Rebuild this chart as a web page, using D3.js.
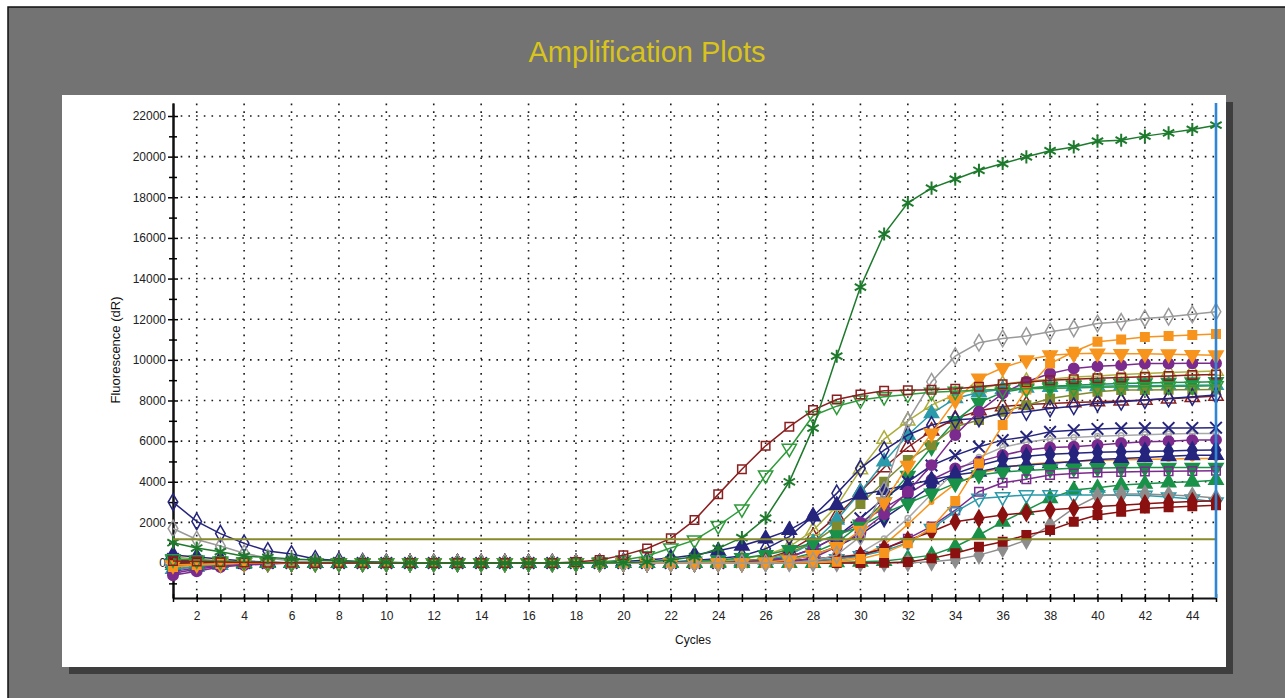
<!DOCTYPE html>
<html>
<head>
<meta charset="utf-8">
<script src="https://cdn.jsdelivr.net/npm/d3@7"></script>
<style>
  body { margin: 0; background: #fff; }
  svg { display: block; font-family: "Liberation Sans", Arial, sans-serif; }
</style>
</head>
<body>
<div id="chart"></div>
<script>
// cycles on the x axis
const cycles = [1, 2, 3, 4, 5, 6, 7, 8, 9, 10, 11, 12, 13, 14, 15, 16, 17, 18, 19, 20, 21, 22, 23,
  24, 25, 26, 27, 28, 29, 30, 31, 32, 33, 34, 35, 36, 37, 38, 39, 40, 41, 42, 43, 44, 45];
const yTicks = [0, 2000, 4000, 6000, 8000, 10000, 12000, 14000, 16000, 18000, 20000, 22000];
const yMinorTicks = [-1000, 1000, 3000, 5000, 7000, 9000, 11000, 13000, 15000, 17000, 19000, 21000];
const xLabelTicks = [2, 4, 6, 8, 10, 12, 14, 16, 18, 20, 22, 24, 26, 28, 30, 32, 34, 36, 38, 40, 42, 44];
const threshold = 1170;

// fluorescence (dR) per cycle
const greenStar = [1000, 740, 560, 340, 280, 200, 150, 100, 60, 40, 20, 10, 0, 0, 0,
  0, 0, 0, 0, 20, 60, 150, 310, 720, 1250, 2210, 4000, 6640, 10180, 13580,
  16190, 17730, 18450, 18890, 19330, 19660, 19990, 20290, 20480, 20760, 20810, 21010, 21170, 21340, 21550];
const brownSquareOpen = [100, 80, 50, 30, 20, 10, 0, 0, 0, 0, 0, 0, 0, 0, 0,
  0, 0, 50, 150, 390, 720, 1215, 2115, 3380, 4620, 5770, 6710, 7530, 8050, 8300,
  8480, 8500, 8530, 8580, 8680, 8800, 8900, 9000, 9050, 9090, 9130, 9170, 9210, 9250, 9280];
const greenTriDownOpen = [200, 150, 100, 60, 30, 10, 0, 0, 0, 0, 0, 0, 0, 0, 0,
  0, 0, 0, 50, 150, 350, 740, 1130, 1840, 2660, 4330, 5640, 7250, 7720, 8020,
  8180, 8300, 8400, 8450, 8500, 8550, 8580, 8600, 8620, 8650, 8660, 8680, 8700, 8700, 8720];
const grayDiamondOpen = [1700, 1160, 840, 480, 250, 100, 50, 20, 0, 0, 0, 0, 0, 0, 0,
  0, 0, 0, 0, 0, 0, 0, 0, 0, 0, 0, 30, 100, 400, 1300,
  3600, 7000, 8920, 10180, 10840, 11050, 11170, 11380, 11550, 11790, 11870, 12040, 12120, 12240, 12370];
const orangeSquare = [-200, -100, -50, 0, 0, 0, 0, 0, 0, 0, 0, 0, 0, 0, 0,
  0, 0, 0, 0, 0, 0, 0, 0, 0, 0, 0, 0, 20, 60, 200,
  490, 980, 1740, 3050, 4900, 6790, 8540, 9820, 10400, 10890, 11000, 11130, 11170, 11220, 11270];
const orangeTriDown = [-100, -60, -30, 0, 0, 0, 0, 0, 0, 0, 0, 0, 0, 0, 0,
  0, 0, 0, 0, 0, 0, 0, 0, 0, 0, 50, 150, 400, 800, 1600,
  3000, 4800, 6380, 8000, 9090, 9610, 9990, 10230, 10300, 10320, 10300, 10300, 10280, 10250, 10230];
const purpleBig = [-600, -400, -200, -100, -50, 0, 0, 0, 0, 0, 0, 0, 0, 0, 0,
  0, 0, 0, 0, 0, 0, 0, 0, 0, 0, 0, 80, 250, 800, 1500,
  2400, 3510, 4820, 6300, 7450, 8350, 8920, 9330, 9580, 9690, 9740, 9820, 9820, 9830, 9830];
const oliveTriOpen = [300, 200, 100, 50, 20, 0, 0, 0, 0, 0, 0, 0, 0, 0, 0,
  0, 0, 0, 0, 0, 0, 0, 30, 100, 200, 400, 800, 1600, 2800, 4600,
  6100, 7000, 7770, 8300, 8600, 8800, 8950, 9050, 9150, 9200, 9280, 9330, 9380, 9420, 9450];
const greenTriDownBig = [150, 100, 50, 20, 0, 0, 0, 0, 0, 0, 0, 0, 0, 0, 0,
  0, 0, 0, 0, 0, 0, 0, 0, 0, 50, 100, 200, 500, 1000, 1900,
  3000, 4300, 5700, 7000, 7900, 8400, 8600, 8700, 8750, 8800, 8830, 8860, 8880, 8900, 8920];
const oliveSquare = [0, 0, 0, 0, 0, 0, 0, 0, 0, 0, 0, 0, 0, 0, 0,
  0, 0, 0, 0, 0, 0, 0, 0, 50, 100, 200, 500, 1000, 1800, 2900,
  4000, 5070, 5800, 6710, 7040, 7440, 7770, 8100, 8270, 8430, 8510, 8520, 8530, 8530, 8540];
const tealTriUp = [-300, -200, -100, -50, 0, 0, 0, 0, 0, 0, 0, 0, 0, 0, 0,
  0, 0, 0, 0, 0, 0, 0, 0, 20, 60, 150, 400, 1000, 2120, 3500,
  4990, 6300, 7360, 8100, 8400, 8550, 8620, 8660, 8690, 8700, 8720, 8730, 8740, 8750, 8760];
const navyDiamondOpen = [3000, 2050, 1450, 970, 590, 440, 200, 120, 60, 30, 0, 0, 0, 0, 0,
  0, 0, 0, 0, 0, 0, 50, 120, 220, 350, 700, 1300, 2300, 3430, 4660,
  5560, 6300, 6790, 7040, 7120, 7360, 7440, 7610, 7720, 7860, 7940, 8020, 8100, 8180, 8270];
const brownTriOpen = [0, 0, 0, 0, 0, 0, 0, 0, 0, 0, 0, 0, 0, 0, 0,
  0, 0, 0, 0, 0, 0, 0, 0, 50, 100, 200, 600, 1300, 2300, 3500,
  4700, 5700, 6500, 7100, 7500, 7700, 7800, 7850, 7900, 7940, 7980, 8020, 8080, 8150, 8220];
const navyX = [200, 100, 50, 0, 0, 0, 0, 0, 0, 0, 0, 0, 0, 0, 0,
  0, 0, 0, 0, 0, 0, 0, 0, 0, 50, 100, 300, 700, 1300, 2200,
  3200, 4000, 4800, 5300, 5720, 6050, 6210, 6460, 6540, 6600, 6630, 6640, 6650, 6650, 6660];
const grayLine = [-200, -100, -50, 0, 0, 0, 0, 0, 0, 0, 0, 0, 0, 0, 0,
  0, 0, 0, 0, 0, 0, 0, 0, 0, 0, 0, 0, 50, 200, 500,
  1200, 2200, 3400, 4500, 5200, 5700, 5950, 6100, 6180, 6240, 6280, 6320, 6350, 6370, 6380];
const purpleSmall = [-500, -300, -150, -50, 0, 0, 0, 0, 0, 0, 0, 0, 0, 0, 0,
  0, 0, 0, 0, 0, 0, 0, 0, 0, 50, 100, 300, 700, 1300, 2000,
  2700, 3400, 4100, 4660, 4990, 5310, 5560, 5690, 5720, 5810, 5900, 5970, 6000, 6050, 6060];
const navyTriUp = [400, 300, 200, 100, 50, 0, 0, 0, 0, 0, 0, 0, 0, 0, 0,
  0, 0, 0, 30, 80, 150, 250, 400, 600, 850, 1200, 1620, 2280, 2850, 3350,
  3590, 3840, 4100, 4330, 4490, 4740, 4820, 4900, 5000, 5100, 5150, 5200, 5250, 5300, 5310];
const navyDiamond = [100, 50, 0, 0, 0, 0, 0, 0, 0, 0, 0, 0, 0, 0, 0,
  0, 0, 0, 0, 0, 0, 0, 0, 0, 0, 50, 150, 400, 800, 1400,
  2200, 3000, 3800, 4400, 4800, 5100, 5250, 5350, 5400, 5450, 5480, 5500, 5520, 5550, 5560];
const orangeLine = [-150, -80, -30, 0, 0, 0, 0, 0, 0, 0, 0, 0, 0, 0, 0,
  0, 0, 0, 0, 0, 0, 0, 0, 0, 0, 0, 0, 30, 100, 300,
  900, 1900, 3000, 3900, 4400, 4700, 4850, 4950, 5000, 5050, 5080, 5100, 5120, 5140, 5150];
const greenTriDownSmall = [0, 0, 0, 0, 0, 0, 0, 0, 0, 0, 0, 0, 0, 0, 0,
  0, 0, 0, 0, 0, 0, 30, 80, 150, 250, 400, 650, 1000, 1380, 1790,
  2450, 2940, 3430, 3920, 4330, 4480, 4560, 4620, 4660, 4680, 4690, 4700, 4700, 4700, 4700];
const purpleSquareOpen = [-400, -250, -100, -50, 0, 0, 0, 0, 0, 0, 0, 0, 0, 0, 0,
  0, 0, 0, 0, 0, 0, 0, 0, 0, 0, 0, 0, 100, 200, 400,
  700, 1200, 1800, 2600, 3510, 3950, 4120, 4330, 4410, 4450, 4480, 4500, 4520, 4530, 4540];
const greenTriUp = [-100, -50, 0, 0, 0, 0, 0, 0, 0, 0, 0, 0, 0, 0, 0,
  0, 0, 0, 0, 0, 0, 0, 0, 0, 0, 0, 0, 0, 30, 60,
  100, 230, 390, 800, 1380, 2030, 2600, 3180, 3590, 3700, 3840, 3900, 3960, 4000, 4080];
const tealTriDownOpen = [-300, -150, -50, 0, 0, 0, 0, 0, 0, 0, 0, 0, 0, 0, 0,
  0, 0, 0, 0, 0, 0, 0, 0, 0, 0, 0, 50, 120, 200, 350,
  600, 1000, 1700, 2520, 3180, 3260, 3350, 3350, 3350, 3350, 3340, 3330, 3250, 3150, 3000];
const grayDiamond = [-100, -60, -30, -20, 0, 0, 0, 0, 0, 0, 0, 0, 0, 0, 0,
  0, 0, 0, 0, 0, 0, 0, 0, 0, 0, 0, 0, 0, 0, 0,
  0, 20, 60, 180, 390, 720, 1130, 1870, 2700, 3300, 3400, 3400, 3350, 3300, 3200];
const darkRedSquare = [0, 0, 0, 0, 0, 0, 0, 0, 0, 0, 0, 0, 0, 0, 0,
  0, 0, 0, 0, 0, 0, 0, 0, 0, 0, 0, 0, 0, 0, 0,
  20, 50, 230, 480, 800, 1050, 1380, 1620, 2030, 2360, 2520, 2690, 2750, 2800, 2850];
const darkRedDiamond = [-100, -50, 0, 0, 0, 0, 0, 0, 0, 0, 0, 0, 0, 0, 0,
  0, 0, 0, 0, 0, 0, 0, 0, 0, 0, 50, 100, 200, 310, 390,
  720, 1130, 1540, 2030, 2200, 2360, 2480, 2620, 2700, 2780, 2850, 2920, 2980, 3030, 3070];

// colours used by the instrument software
const GREEN = "#1a9148", DKGREEN = "#1d7a2c", NAVY = "#25257e", PURPLE = "#7b2a8e",
  ORANGE = "#f7941d", OLIVE = "#7f8a2e", KHAKI = "#adad3c", TEAL = "#2b9aaa",
  BROWN = "#8b1f1f", DKRED = "#8b1010", GRAY = "#9a9a9a";

// draw order: first one ends up underneath
const series = [
  { values: grayLine, color: "#a9a9a9", shape: "circle", open: true, size: 24 },
  { values: orangeLine, color: ORANGE, shape: "circle", open: false, size: 14 },
  { values: brownTriOpen, color: BROWN, shape: "tri", open: true },
  { values: oliveTriOpen, color: KHAKI, shape: "tri", open: true },
  { values: tealTriUp, color: TEAL, shape: "tri", open: false },
  { values: greenTriDownBig, color: GREEN, shape: "triDown", open: false },
  { values: oliveSquare, color: OLIVE, shape: "square", open: false },
  { values: navyDiamondOpen, color: NAVY, shape: "diamond", open: true },
  { values: navyX, color: NAVY, shape: "times", open: true },
  { values: purpleSmall, color: PURPLE, shape: "circle", open: false },
  { values: navyDiamond, color: NAVY, shape: "diamond", open: false },
  { values: navyTriUp, color: NAVY, shape: "tri", open: false },
  { values: greenTriDownSmall, color: GREEN, shape: "triDown", open: false },
  { values: purpleSquareOpen, color: PURPLE, shape: "square", open: true },
  { values: greenTriUp, color: GREEN, shape: "tri", open: false },
  { values: tealTriDownOpen, color: TEAL, shape: "triDown", open: true },
  { values: grayDiamond, color: "#8d8d8d", shape: "diamond", open: false },
  { values: darkRedSquare, color: DKRED, shape: "square", open: false },
  { values: darkRedDiamond, color: DKRED, shape: "diamond", open: false },
  { values: purpleBig, color: PURPLE, shape: "circle", open: false },
  { values: orangeTriDown, color: ORANGE, shape: "triDown", open: false },
  { values: orangeSquare, color: ORANGE, shape: "square", open: false },
  { values: grayDiamondOpen, color: GRAY, shape: "diamond", open: true },
  { values: greenTriDownOpen, color: "#2f9a3a", shape: "triDown", open: true },
  { values: brownSquareOpen, color: BROWN, shape: "square", open: true },
  { values: greenStar, color: DKGREEN, shape: "asterisk", open: true }
];

const W = 1285, H = 698;
const svg = d3.select("#chart").append("svg").attr("width", W).attr("height", H);

// window background and frame
svg.append("rect").attr("x", 8).attr("y", 7).attr("width", W).attr("height", H)
  .attr("fill", "#737373").attr("stroke", "#111").attr("stroke-width", 1.5);
svg.append("rect").attr("x", 69).attr("y", 102).attr("width", 1164).attr("height", 572)
  .attr("fill", "#3e3e3e");
svg.append("rect").attr("x", 62).attr("y", 95).attr("width", 1164).attr("height", 572)
  .attr("fill", "#fff");

svg.append("text").attr("x", 647).attr("y", 62).attr("text-anchor", "middle")
  .attr("font-size", 29).attr("fill", "#d8c41c").text("Amplification Plots");

// scales
const x = d3.scaleLinear().domain([1, 45]).range([173, 1216]);
const y = d3.scaleLinear().domain([-1720, 22640]).range([598, 103]);

// dotted grid
const grid = svg.append("g").attr("stroke", "#1a1a1a").attr("stroke-width", 1.6)
  .attr("stroke-dasharray", "1.6,6.1");
grid.selectAll(".gx").data(xLabelTicks).enter().append("line")
  .attr("x1", d => x(d)).attr("x2", d => x(d)).attr("y1", y.range()[0]).attr("y2", y.range()[1]);
grid.selectAll(".gy").data(yTicks).enter().append("line")
  .attr("x1", x(1)).attr("x2", x(45)).attr("y1", d => y(d)).attr("y2", d => y(d));

// axes with ticks crossing the axis line
const fontCss = "12px 'Liberation Sans', Arial, sans-serif";
let yAxis = svg.append("g").attr("transform", "translate(" + x(1) + ",0)")
  .call(d3.axisLeft(y).tickValues(yTicks).tickSize(5).tickPadding(2).tickSizeOuter(0)
    .tickFormat(d3.format("d")));
yAxis.selectAll(".tick line").attr("x2", 5).attr("x1", -5).attr("stroke-width", 1.5);
yAxis.selectAll("text").attr("style", "font: " + fontCss).attr("fill", "#222");
let yMinor = svg.append("g").attr("transform", "translate(" + x(1) + ",0)")
  .call(d3.axisLeft(y).tickValues(yMinorTicks).tickSize(4).tickFormat("").tickSizeOuter(0));
yMinor.selectAll(".tick line").attr("x2", 4).attr("x1", -4).attr("stroke-width", 1.5);
svg.selectAll(".domain").attr("stroke", "#111").attr("stroke-width", 2);

let xAxis = svg.append("g").attr("transform", "translate(0," + y.range()[0] + ")")
  .call(d3.axisBottom(x).tickValues(cycles).tickSize(4).tickPadding(9).tickSizeOuter(0)
    .tickFormat(d => d % 2 === 0 ? d : ""));
xAxis.selectAll(".tick line").attr("y1", -4).attr("y2", 4).attr("stroke-width", 1.5);
xAxis.selectAll("text").attr("style", "font: " + fontCss).attr("fill", "#222");
xAxis.select(".domain").attr("stroke", "#111").attr("stroke-width", 2);

// axis titles
svg.append("text").attr("transform", "translate(120,350) rotate(-90)")
  .attr("text-anchor", "middle").attr("style", "font: 13px 'Liberation Sans', Arial, sans-serif")
  .attr("fill", "#111").text("Fluorescence (dR)");
svg.append("text").attr("x", 693).attr("y", 644).attr("text-anchor", "middle")
  .attr("style", "font: 12px 'Liberation Sans', Arial, sans-serif").attr("fill", "#111").text("Cycles");

// markers
const symbolTypes = {
  square: d3.symbolSquare, tri: d3.symbolTriangle, triDown: d3.symbolTriangle,
  diamond: d3.symbolDiamond, circle: d3.symbolCircle,
  times: d3.symbolTimes || d3.symbolCross, asterisk: d3.symbolAsterisk || d3.symbolStar
};
const symbolSizes = { square: 72, tri: 88, triDown: 88, diamond: 80, circle: 85, times: 90, asterisk: 120 };

let line = d3.line().x((d, i) => x(cycles[i])).y(d => y(d));
let plot = svg.append("g");
for (let s of series) {
  let g = plot.append("g");
  g.append("path").attr("d", line(s.values)).attr("fill", "none")
    .attr("stroke", s.color).attr("stroke-width", 1.5);
  let sym = d3.symbol().type(symbolTypes[s.shape]).size(s.size || symbolSizes[s.shape]);
  g.selectAll("path.m").data(s.values).enter().append("path")
    .attr("class", "m")
    .attr("d", sym)
    .attr("transform", (d, i) => "translate(" + x(cycles[i]) + "," + y(d) + ")" + (s.shape === "triDown" ? " rotate(180)" : ""))
    .attr("fill", s.open ? "#fff" : s.color)
    .attr("fill-opacity", s.open ? 0 : 1)
    .attr("stroke", s.color)
    .attr("stroke-width", s.shape === "asterisk" || s.shape === "times" ? 2 : 1.5);
}

// threshold line
svg.append("line").attr("x1", x(1)).attr("x2", x(45)).attr("y1", y(threshold)).attr("y2", y(threshold))
  .attr("stroke", "#868a2a").attr("stroke-width", 2.2);

// cycle marker at the last cycle
svg.append("line").attr("x1", x(45)).attr("x2", x(45)).attr("y1", y.range()[1]).attr("y2", y.range()[0])
  .attr("stroke", "#2e86d4").attr("stroke-width", 2.6);
</script>
</body>
</html>
